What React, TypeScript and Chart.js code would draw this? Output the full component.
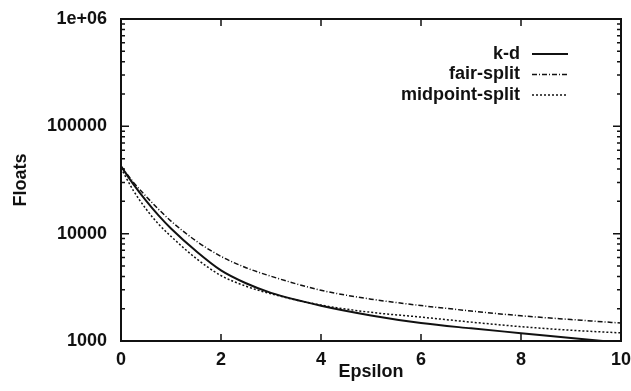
import { useEffect, useRef } from "react";
import { Chart, registerables } from "chart.js";

Chart.register(...registerables);

const epsilon = [0, 0.25, 0.5, 0.75, 1, 1.5, 2, 2.5, 3, 4, 5, 6, 7, 8, 9, 10];
const kd = [42500, 28800, 20300, 14800, 11170, 6890, 4550, 3450, 2805, 2130, 1730, 1470, 1312, 1183, 1067, 962];
const fairSplit = [42500, 30060, 22300, 16900, 13100, 8570, 6140, 4820, 4010, 2970, 2455, 2140, 1905, 1718, 1585, 1470];
const midpointSplit = [40700, 25100, 17000, 12300, 9440, 5890, 4070, 3240, 2750, 2160, 1850, 1670, 1500, 1360, 1260, 1190];

const seriesNames = ["k-d", "fair-split", "midpoint-split"];
const seriesDash = [[], [5, 2, 1, 2], [2, 2]];
const seriesWidth = [2, 1.5, 1.5];

const xTicks = [0, 2, 4, 6, 8, 10];
const yTicks = [1000, 10000, 100000, 1000000];
const yTickLabels = ["1000", "10000", "100000", "1e+06"];

const FONT = "'Liberation Sans', Arial, Helvetica, sans-serif";
const INK = "#111";

const framePlugin = {
  id: "frameTicksLegend",
  afterDatasetsDraw(chart: any) {
    const { ctx, chartArea: a, scales } = chart;
    const xs = scales.x;
    const ys = scales.y;
    ctx.save();
    ctx.strokeStyle = INK;
    ctx.lineWidth = 2;
    ctx.setLineDash([]);
    ctx.strokeRect(a.left, a.top, a.right - a.left, a.bottom - a.top);

    ctx.lineWidth = 1.5;
    ctx.beginPath();
    for (const v of xTicks) {
      const px = xs.getPixelForValue(v);
      ctx.moveTo(px, a.bottom);
      ctx.lineTo(px, a.bottom - 7);
      ctx.moveTo(px, a.top);
      ctx.lineTo(px, a.top + 7);
    }
    for (let d = yTicks[0]; d <= yTicks[yTicks.length - 1]; d *= 10) {
      for (let k = 1; k < 10; k++) {
        const v = d * k;
        if (v > yTicks[yTicks.length - 1]) break;
        const py = ys.getPixelForValue(v);
        const len = k === 1 ? 8 : 4;
        ctx.moveTo(a.left, py);
        ctx.lineTo(a.left + len, py);
        ctx.moveTo(a.right, py);
        ctx.lineTo(a.right - len, py);
      }
    }
    ctx.stroke();

    // legend (gnuplot style: right-aligned text, sample to the right)
    const textRight = a.right - 101;
    const lineStart = a.right - 89;
    const lineEnd = a.right - 53;
    ctx.font = `bold 18px ${FONT}`;
    ctx.fillStyle = INK;
    ctx.textAlign = "right";
    ctx.textBaseline = "middle";
    chart.data.datasets.forEach((ds: any, i: number) => {
      const y = a.top + 35 + i * 20.5;
      ctx.fillText(ds.label, textRight, y);
      ctx.beginPath();
      ctx.setLineDash(ds.borderDash || []);
      ctx.lineWidth = ds.borderWidth;
      ctx.moveTo(lineStart, y);
      ctx.lineTo(lineEnd, y);
      ctx.stroke();
    });
    ctx.restore();
  },
};

export default function App() {
  const ref = useRef<HTMLCanvasElement | null>(null);

  useEffect(() => {
    if (!ref.current) return;
    const seriesValues = [kd, fairSplit, midpointSplit];
    const chart = new Chart(ref.current, {
      type: "line",
      data: {
        datasets: seriesValues.map((vals, i) => ({
          label: seriesNames[i],
          data: epsilon.map((e, j) => ({ x: e, y: vals[j] })),
          borderColor: INK,
          borderWidth: seriesWidth[i],
          borderDash: seriesDash[i],
          pointRadius: 0,
          fill: false,
          cubicInterpolationMode: "monotone",
        })),
      },
      options: {
        animation: false,
        responsive: false,
        layout: { padding: { top: 19, right: 10, left: 0, bottom: 0 } },
        plugins: {
          legend: { display: false },
          tooltip: { enabled: false },
        },
        scales: {
          x: {
            type: "linear",
            min: 0,
            max: 10,
            grid: { display: false, drawTicks: false },
            border: { display: false },
            afterBuildTicks: (s: any) => {
              s.ticks = xTicks.map((v) => ({ value: v }));
            },
            afterFit: (s: any) => {
              s.height = 50;
              s.paddingLeft = 0;
              s.paddingRight = 0;
            },
            ticks: {
              autoSkip: false,
              maxRotation: 0,
              padding: 8,
              color: INK,
              font: { family: FONT, size: 18, weight: "bold" },
              callback: (v: any) => String(v),
            },
            title: {
              display: true,
              text: "Epsilon",
              color: INK,
              font: { family: FONT, size: 18, weight: "bold" },
              padding: { top: 0, bottom: 8 },
            },
          },
          y: {
            type: "logarithmic",
            min: yTicks[0],
            max: yTicks[yTicks.length - 1],
            grid: { display: false, drawTicks: false },
            border: { display: false },
            afterBuildTicks: (s: any) => {
              s.ticks = yTicks.map((v) => ({ value: v, major: true }));
            },
            afterFit: (s: any) => {
              s.width = 121;
              s.paddingTop = 0;
              s.paddingBottom = 0;
            },
            ticks: {
              autoSkip: false,
              padding: 14,
              color: INK,
              font: { family: FONT, size: 18, weight: "bold" },
              callback: (v: any) => {
                const i = yTicks.indexOf(Number(v));
                return i >= 0 ? yTickLabels[i] : "";
              },
            },
            title: {
              display: true,
              text: "Floats",
              color: INK,
              font: { family: FONT, size: 18, weight: "bold" },
              padding: { top: 10, bottom: 0 },
            },
          },
        },
      },
      plugins: [framePlugin],
    } as any);
    return () => chart.destroy();
  }, []);

  return (
    <div style={{ position: "absolute", left: 0, top: 0, width: 631, height: 391, background: "#fff" }}>
      <canvas ref={ref} width={631} height={391} style={{ display: "block" }} />
    </div>
  );
}
